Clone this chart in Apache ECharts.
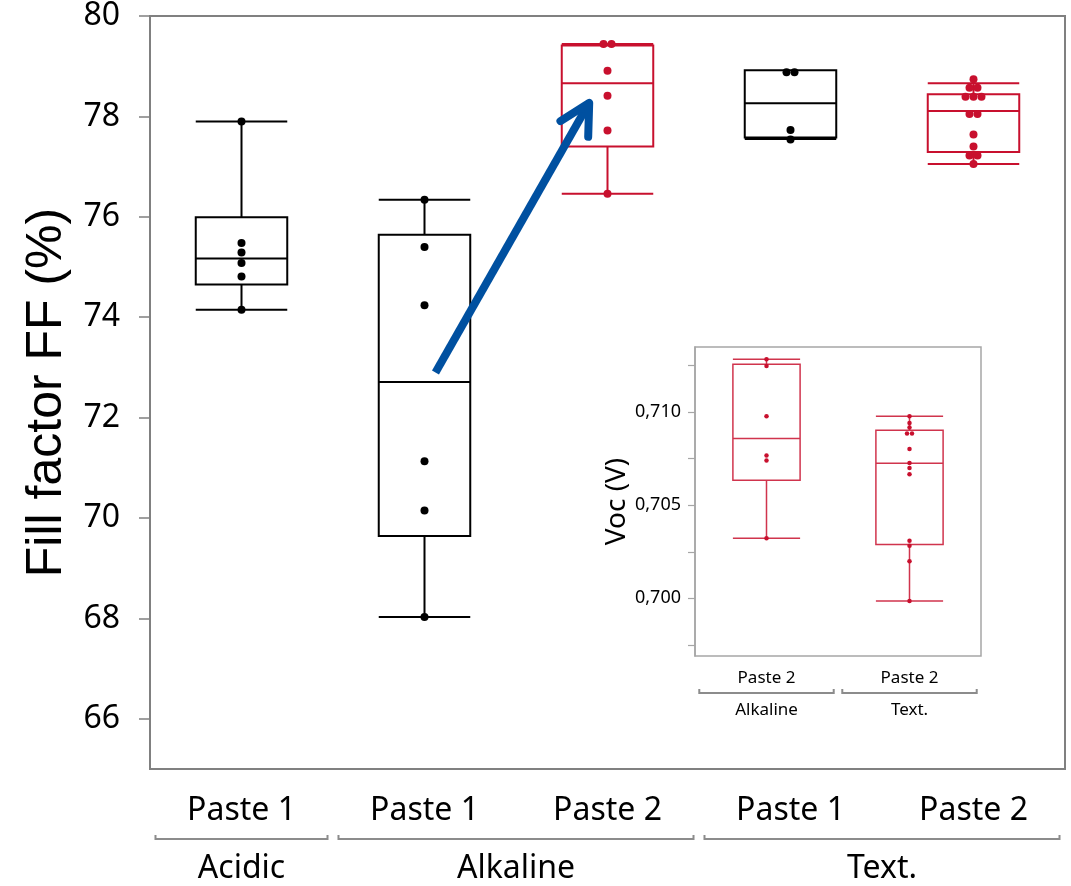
<!DOCTYPE html>
<html>
<head>
<meta charset="utf-8">
<script src="https://cdn.jsdelivr.net/npm/echarts@6/dist/echarts.min.js"></script>
<style>
html, body { margin: 0; padding: 0; background: #fff; }
#chart { width: 1071px; height: 886px; }
</style>
</head>
<body>
<div id="chart"></div>
<script>
// main plot categories
let pasteLabels = ['Paste 1', 'Paste 1', 'Paste 2', 'Paste 1', 'Paste 2']
let groupNames = ['Acidic', 'Alkaline', 'Text.']
let groupSizes = [1, 2, 2]
let yTicks = [66, 68, 70, 72, 74, 76, 78, 80]

// fill factor boxes: [min, Q1, median, Q3, max]
let ffBoxes = [
    [74.15, 74.65, 75.17, 75.99, 77.90],
    [68.03, 69.64, 72.71, 75.64, 76.34],
    [76.46, 77.40, 78.66, 79.41, 79.44],
    [77.55, 77.58, 78.26, 78.92, 78.92],
    [77.05, 77.29, 78.11, 78.44, 78.66]
]
// single cells (FF %)
let ffAcidicP1 = [77.90, 75.48, 75.29, 75.08, 74.81, 74.15]
let ffAlkP1 = [76.34, 75.40, 74.24, 71.13, 70.15, 68.03]
let ffAlkP2 = [79.44, 79.44, 78.91, 78.41, 77.72, 76.46]
let ffTextP1 = [78.88, 78.88, 77.73, 77.54]
let ffTextP2 = [78.74, 78.57, 78.57, 78.39, 78.39, 78.39, 78.05, 78.05, 77.64, 77.40, 77.22, 77.22, 77.05]

// arrow annotation (category position, FF)
let arrowFrom = [1.06, 72.9]
let arrowTo = [1.9, 78.27]

// inset: Voc of paste 2
let vocLabels = ['Paste 2', 'Paste 2']
let vocGroups = ['Alkaline', 'Text.']
let vocTicks = [0.6975, 0.700, 0.7025, 0.705, 0.7075, 0.710, 0.7125]
let vocLabelTicks = [0.700, 0.705, 0.710]
let vocBoxes = [
    [0.70323, 0.70634, 0.70858, 0.71257, 0.71284],
    [0.69985, 0.70289, 0.70726, 0.70903, 0.70978]
]
let vocAlkP2 = [0.71284, 0.71248, 0.70978, 0.70767, 0.70740, 0.70323]
let vocTextP2 = [0.70978, 0.70942, 0.70918, 0.70885, 0.70885, 0.70802, 0.70727, 0.70700, 0.70666, 0.70309, 0.70282, 0.70199, 0.69985]

const BLACK = '#000'
const RED = '#c8102e'
const GRAY = '#808080'
let boxColors = [BLACK, BLACK, RED, BLACK, RED]

// side by side dots when values are equal (values sorted high -> low)
function swarm(values, idx, color, tol, step) {
    let out = []
    let i = 0
    while (i < values.length) {
        let j = i
        while (j + 1 < values.length && Math.abs(values[j + 1] - values[i]) < tol) j++
        let n = j - i + 1
        for (let k = 0; k < n; k++) {
            out.push({
                value: [idx, values[i + k]],
                symbolOffset: [(k - (n - 1) / 2) * step, 0],
                itemStyle: { color: color, opacity: 1 }
            })
        }
        i = j + 1
    }
    return out
}

// group spans / centres on a value axis running -0.5 .. n-0.5
function groupSpans(sizes) {
    let s = 0, res = []
    sizes.forEach(n => { res.push([s - 0.47, s + n - 1 + 0.47, s + (n - 1) / 2]); s += n })
    return res
}
let mainSpans = groupSpans(groupSizes)
let insetSpans = groupSpans([1, 1])

function bracketSeries(xIdx, yIdx, spans, gap) {
    return {
        type: 'custom',
        xAxisIndex: xIdx,
        yAxisIndex: yIdx,
        clip: false,
        silent: true,
        data: spans.map(s => [s[0], s[1]]),
        renderItem: (params, api) => {
            let cs = params.coordSys
            let x0 = api.coord([api.value(0), 0])[0]
            let x1 = api.coord([api.value(1), 0])[0]
            let y = cs.y + cs.height + gap
            return {
                type: 'polyline',
                shape: { points: [[x0, y - 4], [x0, y], [x1, y], [x1, y - 4]] },
                style: { stroke: '#8c8c8c', lineWidth: 2, fill: null }
            }
        }
    }
}

let mainDots = [].concat(
    swarm(ffAcidicP1, 0, BLACK, 0.05, 8),
    swarm(ffAlkP1, 1, BLACK, 0.05, 8),
    swarm(ffAlkP2, 2, RED, 0.05, 8),
    swarm(ffTextP1, 3, BLACK, 0.05, 8),
    swarm(ffTextP2, 4, RED, 0.05, 8)
)
let insetDots = [].concat(
    swarm(vocAlkP2, 0, RED, 0.00002, 5),
    swarm(vocTextP2, 1, RED, 0.00002, 5)
)

let font = 'Noto Sans'
let option = {
    animation: false,
    backgroundColor: '#fff',
    grid: [
        { left: 150, right: 6, top: 16, bottom: 117, show: true, borderColor: GRAY, borderWidth: 2, outerBoundsMode: 'none', containLabel: false },
        { left: 695, right: 90, top: 347, bottom: 230, show: true, borderColor: '#a6a6a6', borderWidth: 1.5, outerBoundsMode: 'none', containLabel: false }
    ],
    xAxis: [
        {
            type: 'category', gridIndex: 0, position: 'bottom',
            data: pasteLabels.map((p, i) => 'c' + i),
            axisLine: { show: true, onZero: false, lineStyle: { color: GRAY, width: 2 } },
            axisTick: { show: false },
            axisLabel: { formatter: (v, i) => pasteLabels[i], fontFamily: font, fontSize: 32, color: BLACK, margin: 26 }
        },
        {
            type: 'value', gridIndex: 0, position: 'bottom', min: -0.5, max: pasteLabels.length - 0.5,
            axisLine: { show: false, onZero: false }, axisTick: { show: false }, splitLine: { show: false },
            axisLabel: {
                customValues: mainSpans.map(s => s[2]),
                formatter: v => groupNames[mainSpans.findIndex(s => Math.abs(s[2] - v) < 1e-6)],
                fontFamily: font, fontSize: 32, color: BLACK, margin: 84
            }
        },
        {
            type: 'category', gridIndex: 1, position: 'bottom',
            data: vocLabels.map((p, i) => 'v' + i),
            axisLine: { show: false, onZero: false },
            axisTick: { show: false },
            axisLabel: { formatter: (v, i) => vocLabels[i], fontFamily: font, fontSize: 17, color: BLACK, margin: 14 }
        },
        {
            type: 'value', gridIndex: 1, position: 'bottom', min: -0.5, max: vocLabels.length - 0.5,
            axisLine: { show: false, onZero: false }, axisTick: { show: false }, splitLine: { show: false },
            axisLabel: {
                customValues: insetSpans.map(s => s[2]),
                formatter: v => vocGroups[Math.round(v)],
                fontFamily: font, fontSize: 17, color: BLACK, margin: 46
            }
        }
    ],
    yAxis: [
        {
            type: 'value', gridIndex: 0, min: 65, max: 80,
            name: 'Fill factor FF (%)', nameLocation: 'middle', nameGap: 77,
            nameTextStyle: { fontFamily: 'Liberation Sans', fontSize: 50, color: BLACK },
            axisLine: { show: true, onZero: false, lineStyle: { color: GRAY, width: 2 } },
            axisTick: { show: true, length: 11, customValues: yTicks, lineStyle: { color: GRAY, width: 1.5 } },
            axisLabel: { customValues: yTicks, fontFamily: font, fontSize: 32, color: BLACK, margin: 30 },
            splitLine: { show: false }
        },
        {
            type: 'value', gridIndex: 1, min: 0.6969, max: 0.7135,
            name: 'Voc (V)', nameLocation: 'middle', nameGap: 63,
            nameTextStyle: { fontFamily: font, fontSize: 28, color: BLACK },
            axisLine: { show: true, onZero: false, lineStyle: { color: '#a6a6a6', width: 1.5 } },
            axisTick: { show: true, length: 7, customValues: vocTicks, lineStyle: { color: '#a6a6a6', width: 1.2 } },
            axisLabel: {
                customValues: vocLabelTicks,
                formatter: v => v.toFixed(3).replace('.', ','),
                fontFamily: font, fontSize: 18, color: BLACK, margin: 14
            },
            splitLine: { show: false }
        }
    ],
    series: [
        {
            name: 'FF',
            type: 'boxplot',
            xAxisIndex: 0, yAxisIndex: 0,
            boxWidth: ['50%', '50%'],
            itemStyle: { color: 'transparent', borderWidth: 2 },
            emphasis: { disabled: true },
            data: ffBoxes.map((b, i) => ({ value: b, itemStyle: { borderColor: boxColors[i] } }))
        },
        {
            name: 'FF cells',
            type: 'scatter',
            xAxisIndex: 0, yAxisIndex: 0,
            symbolSize: 8,
            z: 3,
            itemStyle: { opacity: 1 },
            emphasis: { disabled: true },
            data: mainDots
        },
        {
            name: 'arrow',
            type: 'custom',
            xAxisIndex: 1, yAxisIndex: 0,
            clip: false, silent: true, z: 5,
            encode: { x: [0, 2], y: [1, 3] },
            data: [[arrowFrom[0], arrowFrom[1], arrowTo[0], arrowTo[1]]],
            renderItem: (params, api) => {
                let p0 = api.coord([api.value(0), api.value(1)])
                let p1 = api.coord([api.value(2), api.value(3)])
                let ang = Math.atan2(p0[1] - p1[1], p0[0] - p1[0])
                let L = 34, a = 28 * Math.PI / 180
                let w1 = [p1[0] + L * Math.cos(ang + a), p1[1] + L * Math.sin(ang + a)]
                let w2 = [p1[0] + L * Math.cos(ang - a), p1[1] + L * Math.sin(ang - a)]
                let e = [p1[0] + 4 * Math.cos(ang), p1[1] + 4 * Math.sin(ang)]
                return {
                    type: 'group',
                    children: [
                        { type: 'line', shape: { x1: p0[0], y1: p0[1], x2: e[0], y2: e[1] }, style: { stroke: '#0050a0', lineWidth: 8 } },
                        { type: 'polyline', shape: { points: [w1, p1, w2] }, style: { stroke: '#0050a0', lineWidth: 8, lineCap: 'round', lineJoin: 'round', fill: null } }
                    ]
                }
            }
        },
        bracketSeries(1, 0, mainSpans, 70),
        {
            name: 'Voc',
            type: 'boxplot',
            xAxisIndex: 2, yAxisIndex: 1,
            boxWidth: ['47%', '47%'],
            itemStyle: { color: 'transparent', borderColor: 'rgba(200,16,46,0.85)', borderWidth: 1.5 },
            emphasis: { disabled: true },
            data: vocBoxes
        },
        {
            name: 'Voc cells',
            type: 'scatter',
            xAxisIndex: 2, yAxisIndex: 1,
            symbolSize: 4.5,
            z: 3,
            itemStyle: { opacity: 1 },
            emphasis: { disabled: true },
            data: insetDots
        },
        bracketSeries(3, 1, insetSpans, 37)
    ]
}

let chart = echarts.init(document.getElementById('chart'))
chart.setOption(option)
window.addEventListener('resize', () => chart.resize())
</script>
</body>
</html>
